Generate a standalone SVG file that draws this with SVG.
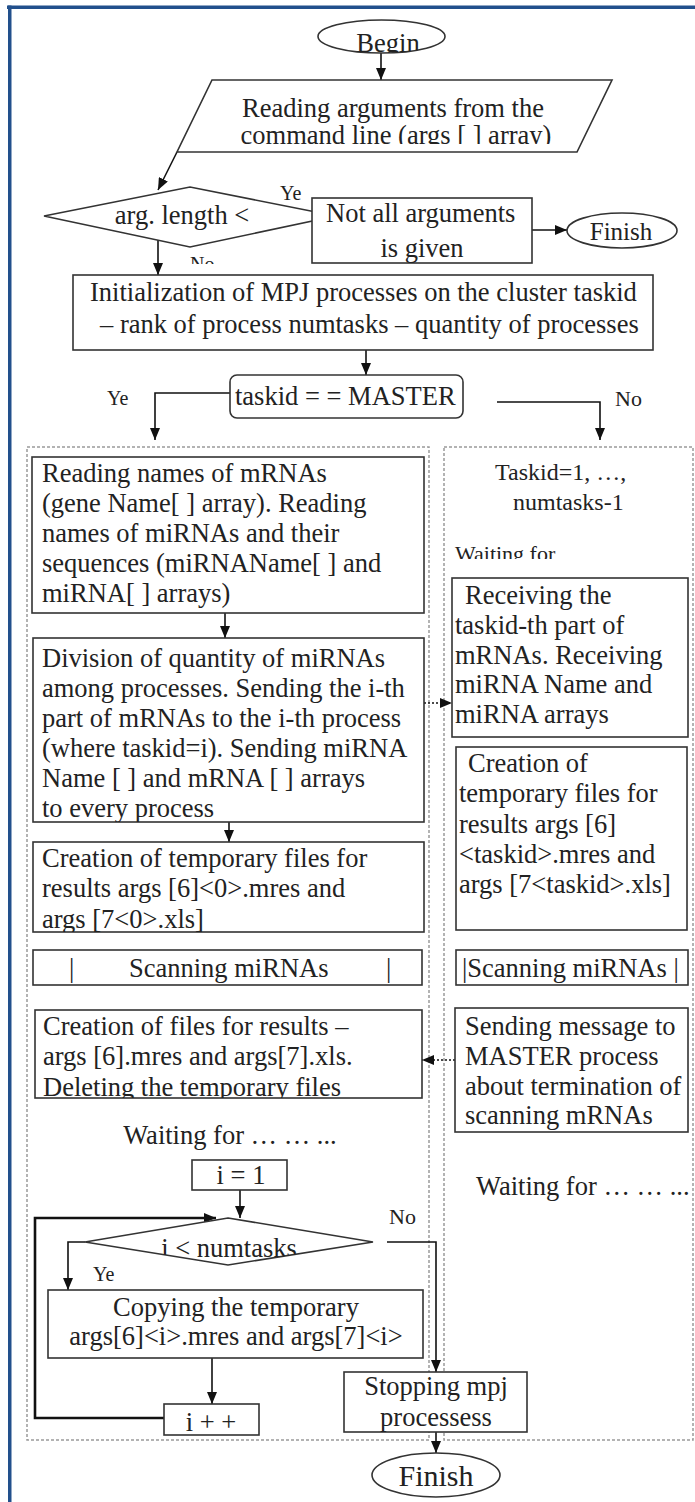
<svg xmlns="http://www.w3.org/2000/svg" width="695" height="1502" viewBox="0 0 695 1502">
<style>
text { font-family: "Liberation Serif", "Times New Roman", serif; font-size: 26.5px; fill: #222; }
.box { fill: #fff; stroke: #333; stroke-width: 1.6; }
.cont { fill: none; stroke: #9a9a9a; stroke-width: 1.5; stroke-dasharray: 3 2; }
.conn { fill: none; stroke: #111; stroke-width: 1.6; }
.thick { stroke-width: 2.6; }
.dot { stroke-dasharray: 2 2; }
.lbl { font-size: 20px; }
.lbl2 { font-size: 22px; }
.mid { text-anchor: middle; }
.sm { font-size: 24px; }
</style>
<defs>
<marker id="ah" viewBox="0 0 12 10" refX="12" refY="5" markerWidth="12" markerHeight="10" markerUnits="userSpaceOnUse" orient="auto"><path d="M0,0 L12,5 L0,10 z" fill="#111"/></marker>
<clipPath id="cBegin"><ellipse cx="381.5" cy="36.5" rx="63.5" ry="16.5"/></clipPath>
<clipPath id="cRead2"><rect x="150" y="80" width="500" height="64"/></clipPath>
<clipPath id="cNo1"><rect x="150" y="240" width="100" height="24"/></clipPath>
<clipPath id="cWait"><rect x="444" y="530" width="250" height="29"/></clipPath>
<clipPath id="cDiv"><rect x="33" y="638" width="391" height="184"/></clipPath>
<clipPath id="cTmpM"><rect x="33" y="842" width="391" height="90"/></clipPath>
<clipPath id="cFinal"><rect x="35" y="1010" width="387" height="88"/></clipPath>
<clipPath id="cCond"><polygon points="228,1218 373,1242 228,1265 85,1242"/></clipPath>
</defs>
<rect x="0" y="0" width="695" height="1502" fill="#fff"/>
<g id="frame" fill="#22508c">
<rect x="7" y="5.5" width="688" height="3.5"/>
<rect x="8" y="5.5" width="3.5" height="1497"/>
</g>
<g id="containers">
<rect class="cont" x="27" y="447" width="402" height="993"/>
<rect class="cont" x="444" y="447" width="249" height="993"/>
</g>
<g id="connectors">
<path class="conn" d="M381,53 V80" marker-end="url(#ah)"/>
<path class="conn" d="M177,152 L158,190" marker-end="url(#ah)"/>
<path class="conn" d="M273,216 H312" marker-end="url(#ah)"/>
<path class="conn" d="M532,230 H567" marker-end="url(#ah)"/>
<path class="conn" d="M158,240 V275" marker-end="url(#ah)"/>
<path class="conn" d="M366,350 V375" marker-end="url(#ah)"/>
<path class="conn" d="M230,393 H155 V440" marker-end="url(#ah)"/>
<path class="conn" d="M497,402 H600 V440" marker-end="url(#ah)"/>
<path class="conn" d="M225,613 V638" marker-end="url(#ah)"/>
<path class="conn" d="M229,822 V842" marker-end="url(#ah)"/>
<path class="conn dot" d="M424,703 H452" marker-end="url(#ah)"/>
<path class="conn dot" d="M455,1060 H422" marker-end="url(#ah)"/>
<path class="conn" d="M240,1190 V1218" marker-end="url(#ah)"/>
<path class="conn" d="M85,1242 H68 V1290" marker-end="url(#ah)"/>
<path class="conn" d="M387,1242 H436 V1372" marker-end="url(#ah)"/>
<path class="conn" d="M212,1358 V1404" marker-end="url(#ah)"/>
<path class="conn thick" d="M164,1418 H35 V1218 H216" marker-end="url(#ah)"/>
<path class="conn" d="M436,1432 V1453" marker-end="url(#ah)"/>
<text class="lbl" x="280" y="200">Ye</text>
<text class="lbl" x="190" y="271" clip-path="url(#cNo1)">No</text>
<text class="lbl" x="107" y="405">Ye</text>
<text class="lbl2" x="615" y="406">No</text>
<text class="lbl2" x="389" y="1224">No</text>
<text class="lbl" x="93" y="1281">Ye</text>
</g>
<g id="begin">
<ellipse class="box" cx="381.5" cy="36.5" rx="63.5" ry="16.5"/>
<text class="mid" x="388" y="52" clip-path="url(#cBegin)">Begin</text>
</g>
<g id="read-args">
<polygon class="box" points="212,80 612,80 577,152 177,152"/>
<text class="mid" x="393" y="117">Reading arguments from the</text>
<text class="mid" x="396" y="144" clip-path="url(#cRead2)">command line (args [ ] array)</text>
</g>
<g id="arg-length">
<polygon class="box" points="44,216 190,187 336,216 190,247"/>
<text class="mid" x="182" y="224">arg. length &lt;</text>
</g>
<g id="not-all">
<rect class="box" x="312" y="198" width="220" height="65"/>
<text x="326" y="222">Not all arguments</text>
<text class="mid" x="422" y="257">is given</text>
</g>
<g id="finish-top">
<ellipse class="box" cx="622" cy="230.5" rx="55" ry="17.5"/>
<text class="mid" x="621" y="240" style="font-size:25px">Finish</text>
</g>
<g id="init">
<rect class="box" x="73" y="275" width="580" height="75"/>
<text x="90" y="301">Initialization of MPJ processes on the cluster taskid</text>
<text x="100" y="333">– rank of process numtasks – quantity of processes</text>
</g>
<g id="master">
<rect class="box" x="230" y="375" width="233" height="43" rx="7"/>
<text x="235" y="405">taskid = = MASTER</text>
</g>
<g id="worker-header">
<text class="sm" x="495" y="480">Taskid=1, …,</text>
<text class="sm" x="513" y="510">numtasks-1</text>
<text x="455" y="561" style="font-size:22px" clip-path="url(#cWait)">Waiting for</text>
</g>
<g id="receive">
<rect class="box" x="452" y="578" width="236" height="159"/>
<text x="465" y="604">Receiving the</text>
<text x="455" y="634">taskid-th part of</text>
<text x="455" y="664">mRNAs. Receiving</text>
<text x="455" y="693">miRNA Name and</text>
<text x="455" y="723">miRNA arrays</text>
</g>
<g id="create-tmp-worker">
<rect class="box" x="456" y="747" width="231" height="183"/>
<text x="468" y="772">Creation of</text>
<text x="459" y="802">temporary files for</text>
<text x="459" y="833">results args [6]</text>
<text x="459" y="863">&lt;taskid&gt;.mres and</text>
<text x="459" y="893">args [7&lt;taskid&gt;.xls]</text>
</g>
<g id="scan-worker">
<rect class="box" x="456" y="950" width="232" height="35"/>
<text x="462" y="977">|Scanning miRNAs |</text>
</g>
<g id="send">
<rect class="box" x="455" y="1008" width="233" height="124"/>
<text x="465" y="1035">Sending message to</text>
<text x="465" y="1065">MASTER process</text>
<text x="465" y="1095">about termination of</text>
<text x="465" y="1124">scanning mRNAs</text>
</g>
<g id="wait-worker">
<text x="476" y="1195">Waiting for … … ...</text>
</g>
<g id="read-names">
<rect class="box" x="32" y="457" width="392" height="156"/>
<text x="42" y="482">Reading names of mRNAs</text>
<text x="42" y="512">(gene Name[ ] array). Reading</text>
<text x="42" y="542">names of miRNAs and their</text>
<text x="42" y="572">sequences (miRNAName[ ] and</text>
<text x="42" y="602">miRNA[ ] arrays)</text>
</g>
<g id="divide">
<rect class="box" x="33" y="638" width="391" height="184"/>
<g clip-path="url(#cDiv)">
<text x="42" y="667">Division of quantity of miRNAs</text>
<text x="42" y="697">among processes. Sending the i-th</text>
<text x="42" y="727">part of mRNAs to the i-th process</text>
<text x="42" y="757">(where taskid=i). Sending miRNA</text>
<text x="42" y="787">Name [ ] and mRNA [ ] arrays</text>
<text x="42" y="817">to every process</text>
</g>
</g>
<g id="create-tmp-master">
<rect class="box" x="33" y="842" width="391" height="90"/>
<g clip-path="url(#cTmpM)">
<text x="42" y="867">Creation of temporary files for</text>
<text x="42" y="897">results args [6]&lt;0&gt;.mres and</text>
<text x="42" y="928">args [7&lt;0&gt;.xls]</text>
</g>
</g>
<g id="scan-master">
<rect class="box" x="33" y="950" width="389" height="35"/>
<text y="977"><tspan x="69">|</tspan><tspan x="129">Scanning miRNAs</tspan><tspan x="386">|</tspan></text>
</g>
<g id="create-final">
<rect class="box" x="35" y="1010" width="387" height="88"/>
<g clip-path="url(#cFinal)">
<text x="43" y="1035">Creation of files for results –</text>
<text x="43" y="1065">args [6].mres and args[7].xls.</text>
<text x="43" y="1096">Deleting the temporary files</text>
</g>
</g>
<g id="wait-master">
<text class="mid" x="230" y="1144">Waiting for … … ...</text>
</g>
<g id="i-init">
<rect class="box" x="192" y="1160" width="95" height="30"/>
<text class="mid" x="241" y="1184">i = 1</text>
</g>
<g id="cond">
<polygon class="box" points="228,1218 373,1242 228,1265 85,1242"/>
<text class="mid" x="229" y="1257" clip-path="url(#cCond)">i &lt; numtasks</text>
</g>
<g id="copy">
<rect class="box" x="48" y="1290" width="375" height="68"/>
<text class="mid" x="236" y="1316">Copying the temporary</text>
<text class="mid" x="236" y="1345">args[6]&lt;i&gt;.mres and args[7]&lt;i&gt;</text>
</g>
<g id="i-inc">
<rect class="box" x="164" y="1404" width="95" height="31"/>
<text class="mid" x="211" y="1431">i + +</text>
</g>
<g id="stop">
<rect class="box" x="344" y="1372" width="183" height="60"/>
<text class="mid" x="436" y="1395">Stopping mpj</text>
<text class="mid" x="436" y="1426">processess</text>
</g>
<g id="finish-bottom">
<ellipse class="box" cx="436" cy="1475" rx="64" ry="22"/>
<text class="mid" x="436" y="1486" style="font-size:30px">Finish</text>
</g>
</svg>
